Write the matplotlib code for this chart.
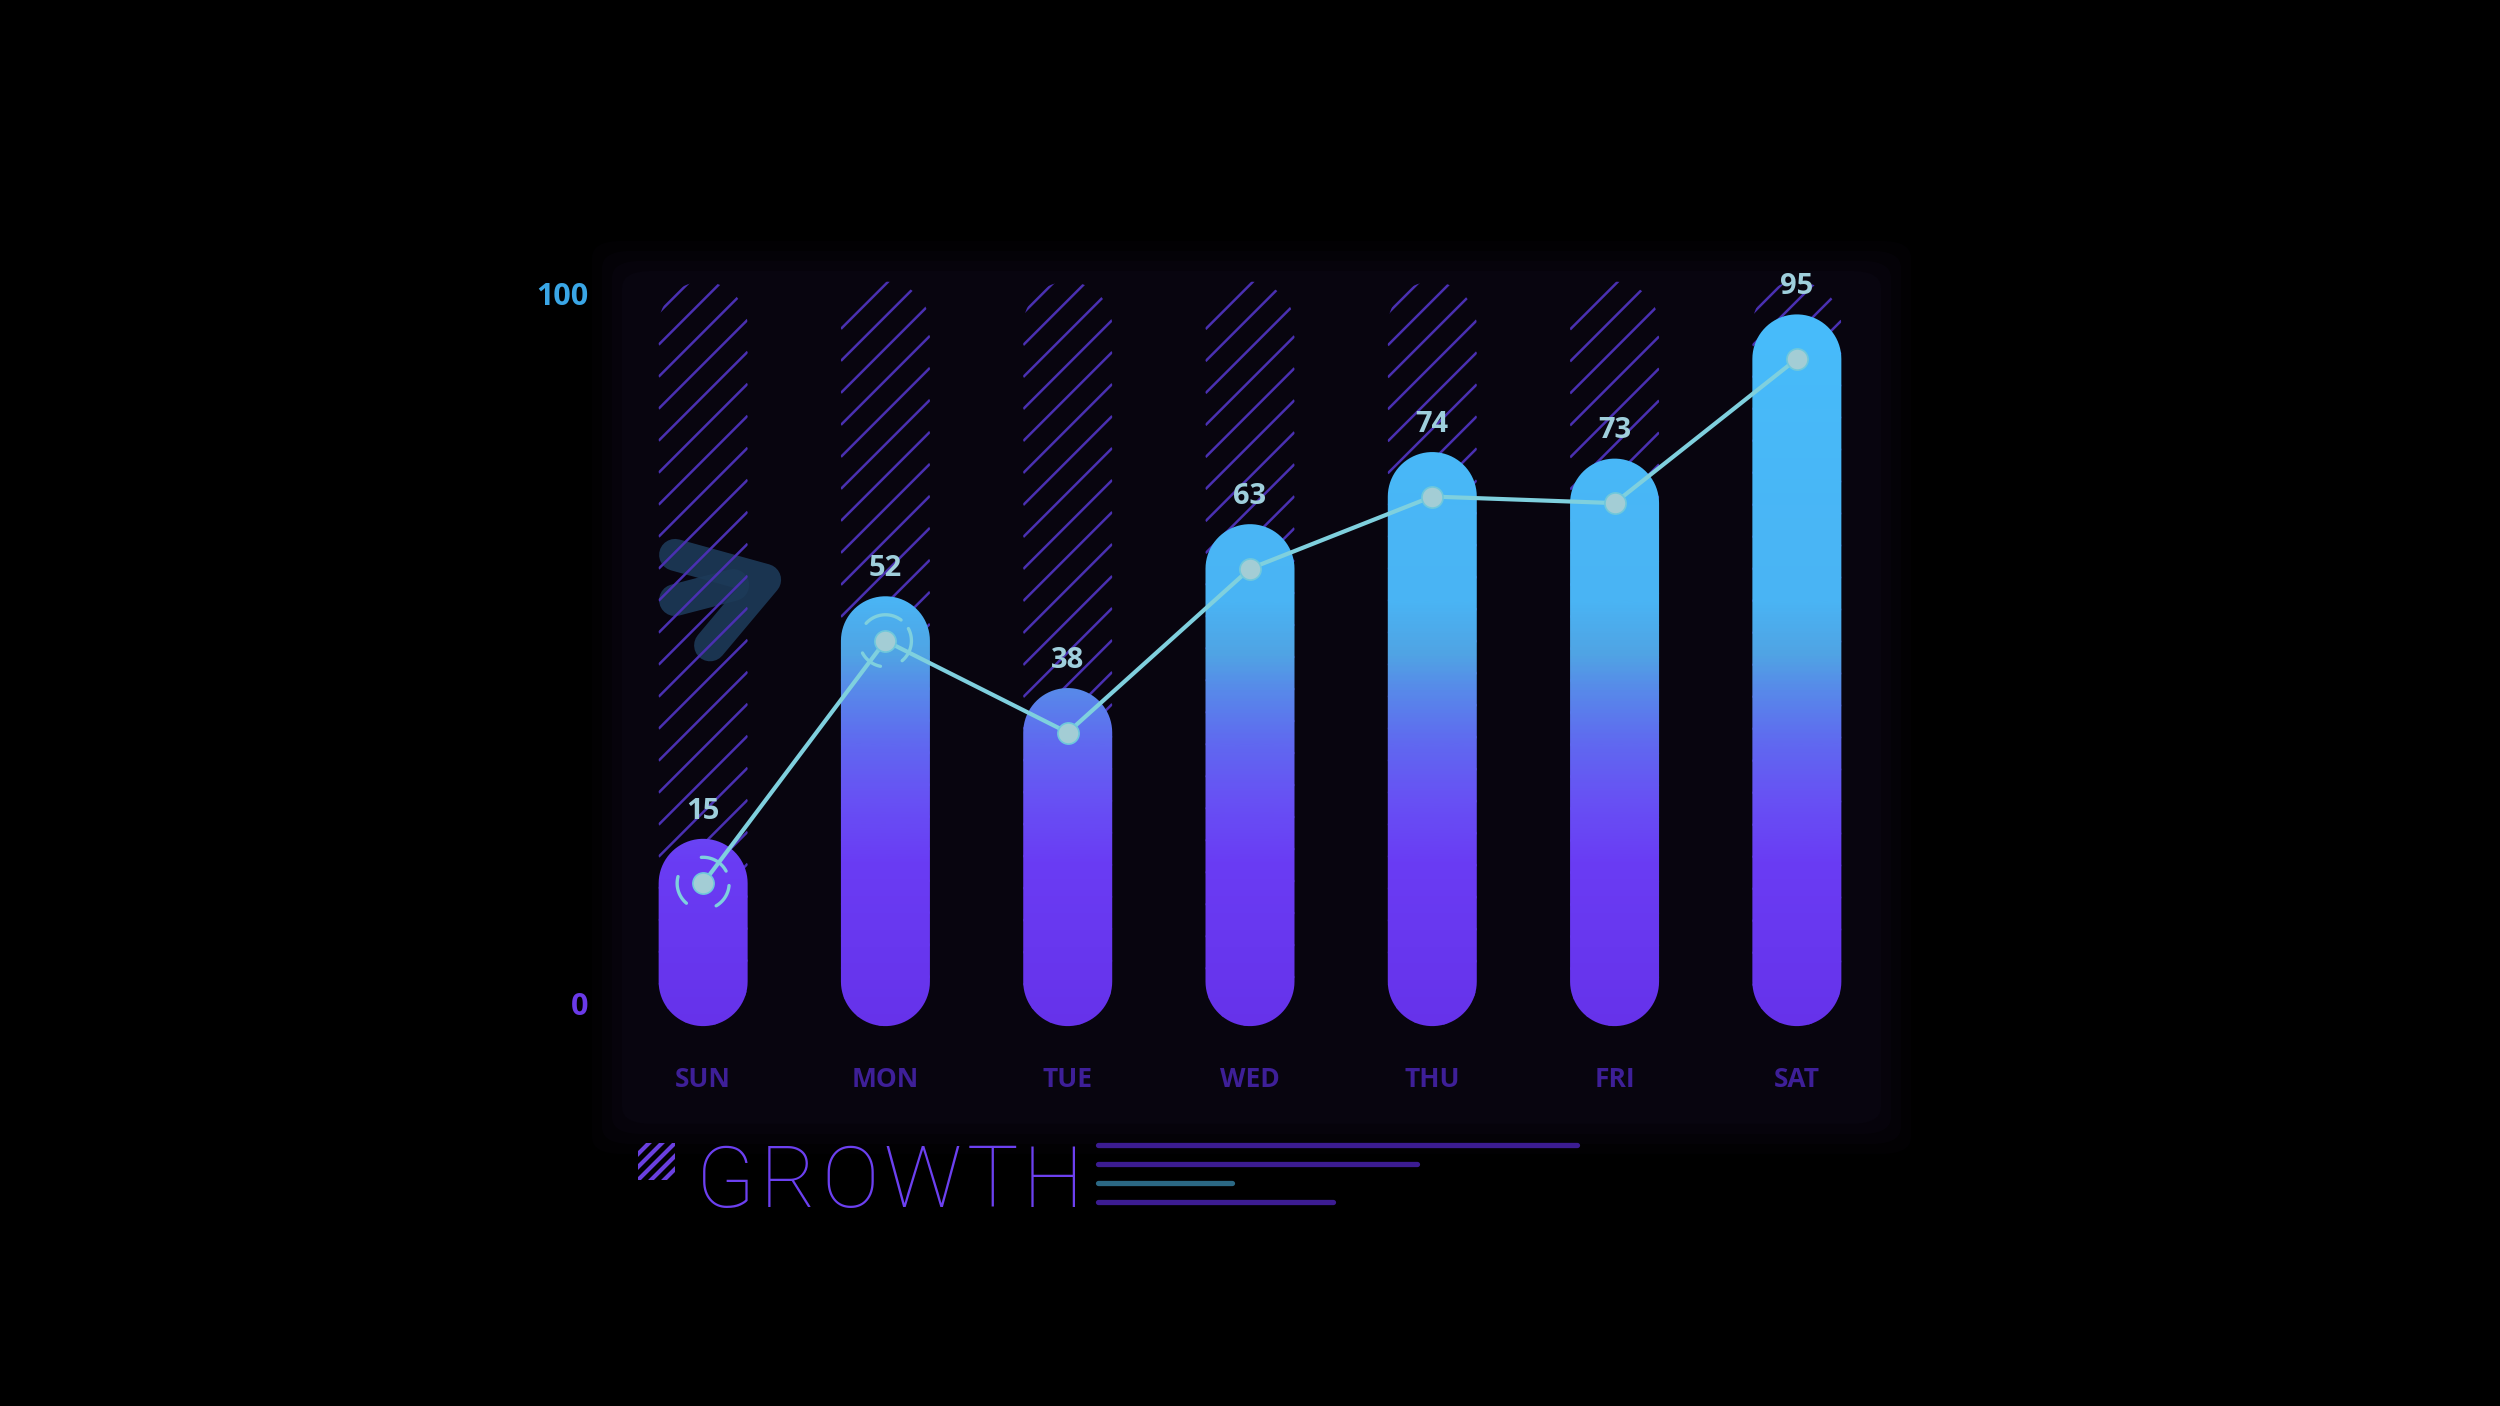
import numpy as np
import matplotlib
matplotlib.use("Agg")
import matplotlib.pyplot as plt
from matplotlib.path import Path
from matplotlib.patches import PathPatch, FancyBboxPatch, Rectangle
from matplotlib.colors import LinearSegmentedColormap
from matplotlib.collections import LineCollection
from matplotlib.lines import Line2D

# ---------------- data ----------------
days = ["SUN", "MON", "TUE", "WED", "THU", "FRI", "SAT"]
values = [15, 52, 38, 63, 74, 73, 95]
y_min_label = "0"
y_max_label = "100"
title = "GROWTH"
highlight_rings = {0: [(28, 94), (165, 230), (300, 355)],
                   1: [(53, 138), (208, 259), (310, 388)]}
# decorative arrow (data coords)
arrow_main = [(-0.154, 65.1), (0.34, 61.3), (0.038, 51.3)]
arrow_side = [(-0.154, 58.2), (0.165, 60.5)]

# ---------------- styles ----------------
BG = "#000000"
PANEL = "#08050f"
HATCH = "#4a30b2"
LINE_C = "#7fd0de"
DOT_C = "#a3cdd5"
VAL_C = "#9fcfdc"
XLAB_C = "#3e1f98"
grad_stops = [(-8, "#6632ea"), (18, "#6a3cf4"), (28, "#6752f4"), (36, "#6068f0"),
              (44, "#5888ea"), (50, "#50a4e4"), (58, "#4ab4f4"), (102, "#47bcfb")]

fig = plt.figure(figsize=(12.5, 7.03), dpi=200, facecolor=BG)

# panel background with soft edge
for i, a in enumerate([0.25, 0.4, 0.6, 1.0]):
    pad = (3 - i) * 0.004
    fig.patches.append(FancyBboxPatch((0.2488 - pad, 0.2006 - pad * 1.78),
                                      0.5036 + 2 * pad, 0.6067 + 2 * pad * 1.78,
                                      boxstyle="round,pad=0,rounding_size=0.012",
                                      transform=fig.transFigure, facecolor=PANEL,
                                      edgecolor="none", alpha=a, zorder=-5))

ax = fig.add_axes([0.2448, 0.2319, 0.5104, 0.6294])
ax.set_zorder(1)
ax.axis("off")
ax.patch.set_visible(False)
XL, YL = (-0.5, 6.5), (-15, 120)

# pixel scale to make round caps circular on screen
fig_w, fig_h = fig.get_size_inches() * fig.dpi
ax_w = 0.5104 * fig_w
ax_h = 0.6294 * fig_h
px_per_x = ax_w / (XL[1] - XL[0])
px_per_y = ax_h / (YL[1] - YL[0])
half_w_px = 44.5
hw = half_w_px / px_per_x
ry = half_w_px / px_per_y


def capsule(xc, y0, y1, n=40):
    t1 = np.linspace(0, np.pi, n)
    top = np.column_stack([xc + hw * np.cos(t1), y1 + ry * np.sin(t1)])
    t2 = np.linspace(np.pi, 2 * np.pi, n)
    bot = np.column_stack([xc + hw * np.cos(t2), y0 + ry * np.sin(t2)])
    verts = np.vstack([top, bot, top[:1]])
    codes = [Path.MOVETO] + [Path.LINETO] * (len(verts) - 2) + [Path.CLOSEPOLY]
    return Path(verts, codes)


x = np.arange(len(days))

# hatched background columns (45 degree stripes, 32 px apart)
spacing = 32 / px_per_y
rise = 2 * half_w_px / px_per_y
for xi in x:
    col = PathPatch(capsule(xi, 0, 100), facecolor="none", edgecolor="none")
    ax.add_patch(col)
    starts = np.arange(-20, 115, spacing) + (xi * 7.3) % spacing
    segs = [[(xi - hw, s), (xi + hw, s + rise)] for s in starts]
    lc = LineCollection(segs, colors=HATCH, linewidths=0.9, zorder=1)
    ax.add_collection(lc)
    lc.set_clip_path(col)

# decorative arrow
for seg in (arrow_main, arrow_side):
    xs, ys = zip(*seg)
    ax.plot(xs, ys, color="#1d3a58", lw=11.5, solid_capstyle="round",
            solid_joinstyle="round", alpha=0.9, zorder=0.9)

# gradient bars
vmin, vmax = grad_stops[0][0], grad_stops[-1][0]
cmap = LinearSegmentedColormap.from_list(
    "g", [((v - vmin) / (vmax - vmin), c) for v, c in grad_stops])
grad = np.linspace(0, 1, 600).reshape(-1, 1)
im = ax.imshow(grad, cmap=cmap, origin="lower", aspect="auto",
               extent=(XL[0], XL[1], vmin, vmax), zorder=2, interpolation="bilinear")
compound = Path.make_compound_path(*[capsule(xi, 0, v) for xi, v in zip(x, values)])
clip = PathPatch(compound, transform=ax.transData, facecolor="none", edgecolor="none")
ax.add_patch(clip)
im.set_clip_path(clip)
ax.set_xlim(*XL)
ax.set_ylim(*YL)

# line + dots
ax.plot(x, values, color=LINE_C, lw=1.5, zorder=3, solid_capstyle="round")
ax.scatter(x, values, s=58, color=DOT_C, edgecolor="#6fc8dc", linewidth=0.6, zorder=4)

# rings (dashed arcs drawn in screen-circular parametrisation)
ring_px = 26
for idx, arcs in highlight_rings.items():
    for a1, a2 in arcs:
        t = np.radians(np.linspace(a1, a2, 30))
        ax.plot(x[idx] + ring_px / px_per_x * np.cos(t),
                values[idx] + ring_px / px_per_y * np.sin(t),
                color=LINE_C, lw=1.2, zorder=4, solid_capstyle="round")

# value labels
for xi, v in zip(x, values):
    ax.annotate(str(v), (xi, v), xytext=(0, 26), textcoords="offset points",
                ha="center", va="center", fontsize=10.5, fontweight="bold",
                color=VAL_C, family="Open Sans", zorder=5)

# x labels
for xi, d in zip(x, days):
    ax.text(xi, -14.9, d, ha="center", va="center", fontsize=9.5, fontweight="bold",
            color=XLAB_C, family="Open Sans")

# y labels
ax.text(-0.63, 104.5, y_max_label, ha="right", va="center", fontsize=11, fontweight="bold",
        color="#3aa6e6", family="Open Sans")
ax.text(-0.63, -3.9, y_min_label, ha="right", va="center", fontsize=11, fontweight="bold",
        color="#6a3ae8", family="Open Sans")

# title with letter spacing
renderer = fig.canvas.get_renderer()
xpos = 0.2782
extra_px = 5.0
for ch in title:
    t = fig.text(xpos, 1 - 1207 / 1406, ch, ha="left", va="baseline", fontsize=31,
                 fontweight="light", color="#6c40f0", family="Roboto")
    bb = t.get_window_extent(renderer)
    xpos += (bb.width + extra_px) / fig_w

icon_rect = Rectangle((638 / 2500, 1 - 1180 / 1406), 37 / 2500, 37 / 1406,
                      transform=fig.transFigure, facecolor="none", edgecolor="none")
fig.patches.append(icon_rect)
for off in [-26, -13, 0, 13, 26]:
    ln = Line2D([(638 + off - 10) / 2500, (675 + off + 10) / 2500],
                [1 - (1190) / 1406, 1 - (1133) / 1406],
                transform=fig.transFigure, color="#6a40e0", lw=1.5)
    ln.set_clip_path(icon_rect)
    fig.lines.append(ln)

deco_lines = [(1145, 1577, "#3c1c92"), (1164, 1417, "#3c1c92"),
              (1183, 1232, "#2b6884"), (1202, 1333, "#3c1c92")]
for yp, xe, c in deco_lines:
    fig.lines.append(Line2D([1098 / 2500, xe / 2500], [1 - yp / 1406] * 2,
                            transform=fig.transFigure, color=c, lw=1.9,
                            solid_capstyle="round"))

fig.savefig("out.png", dpi=200, facecolor=BG)
